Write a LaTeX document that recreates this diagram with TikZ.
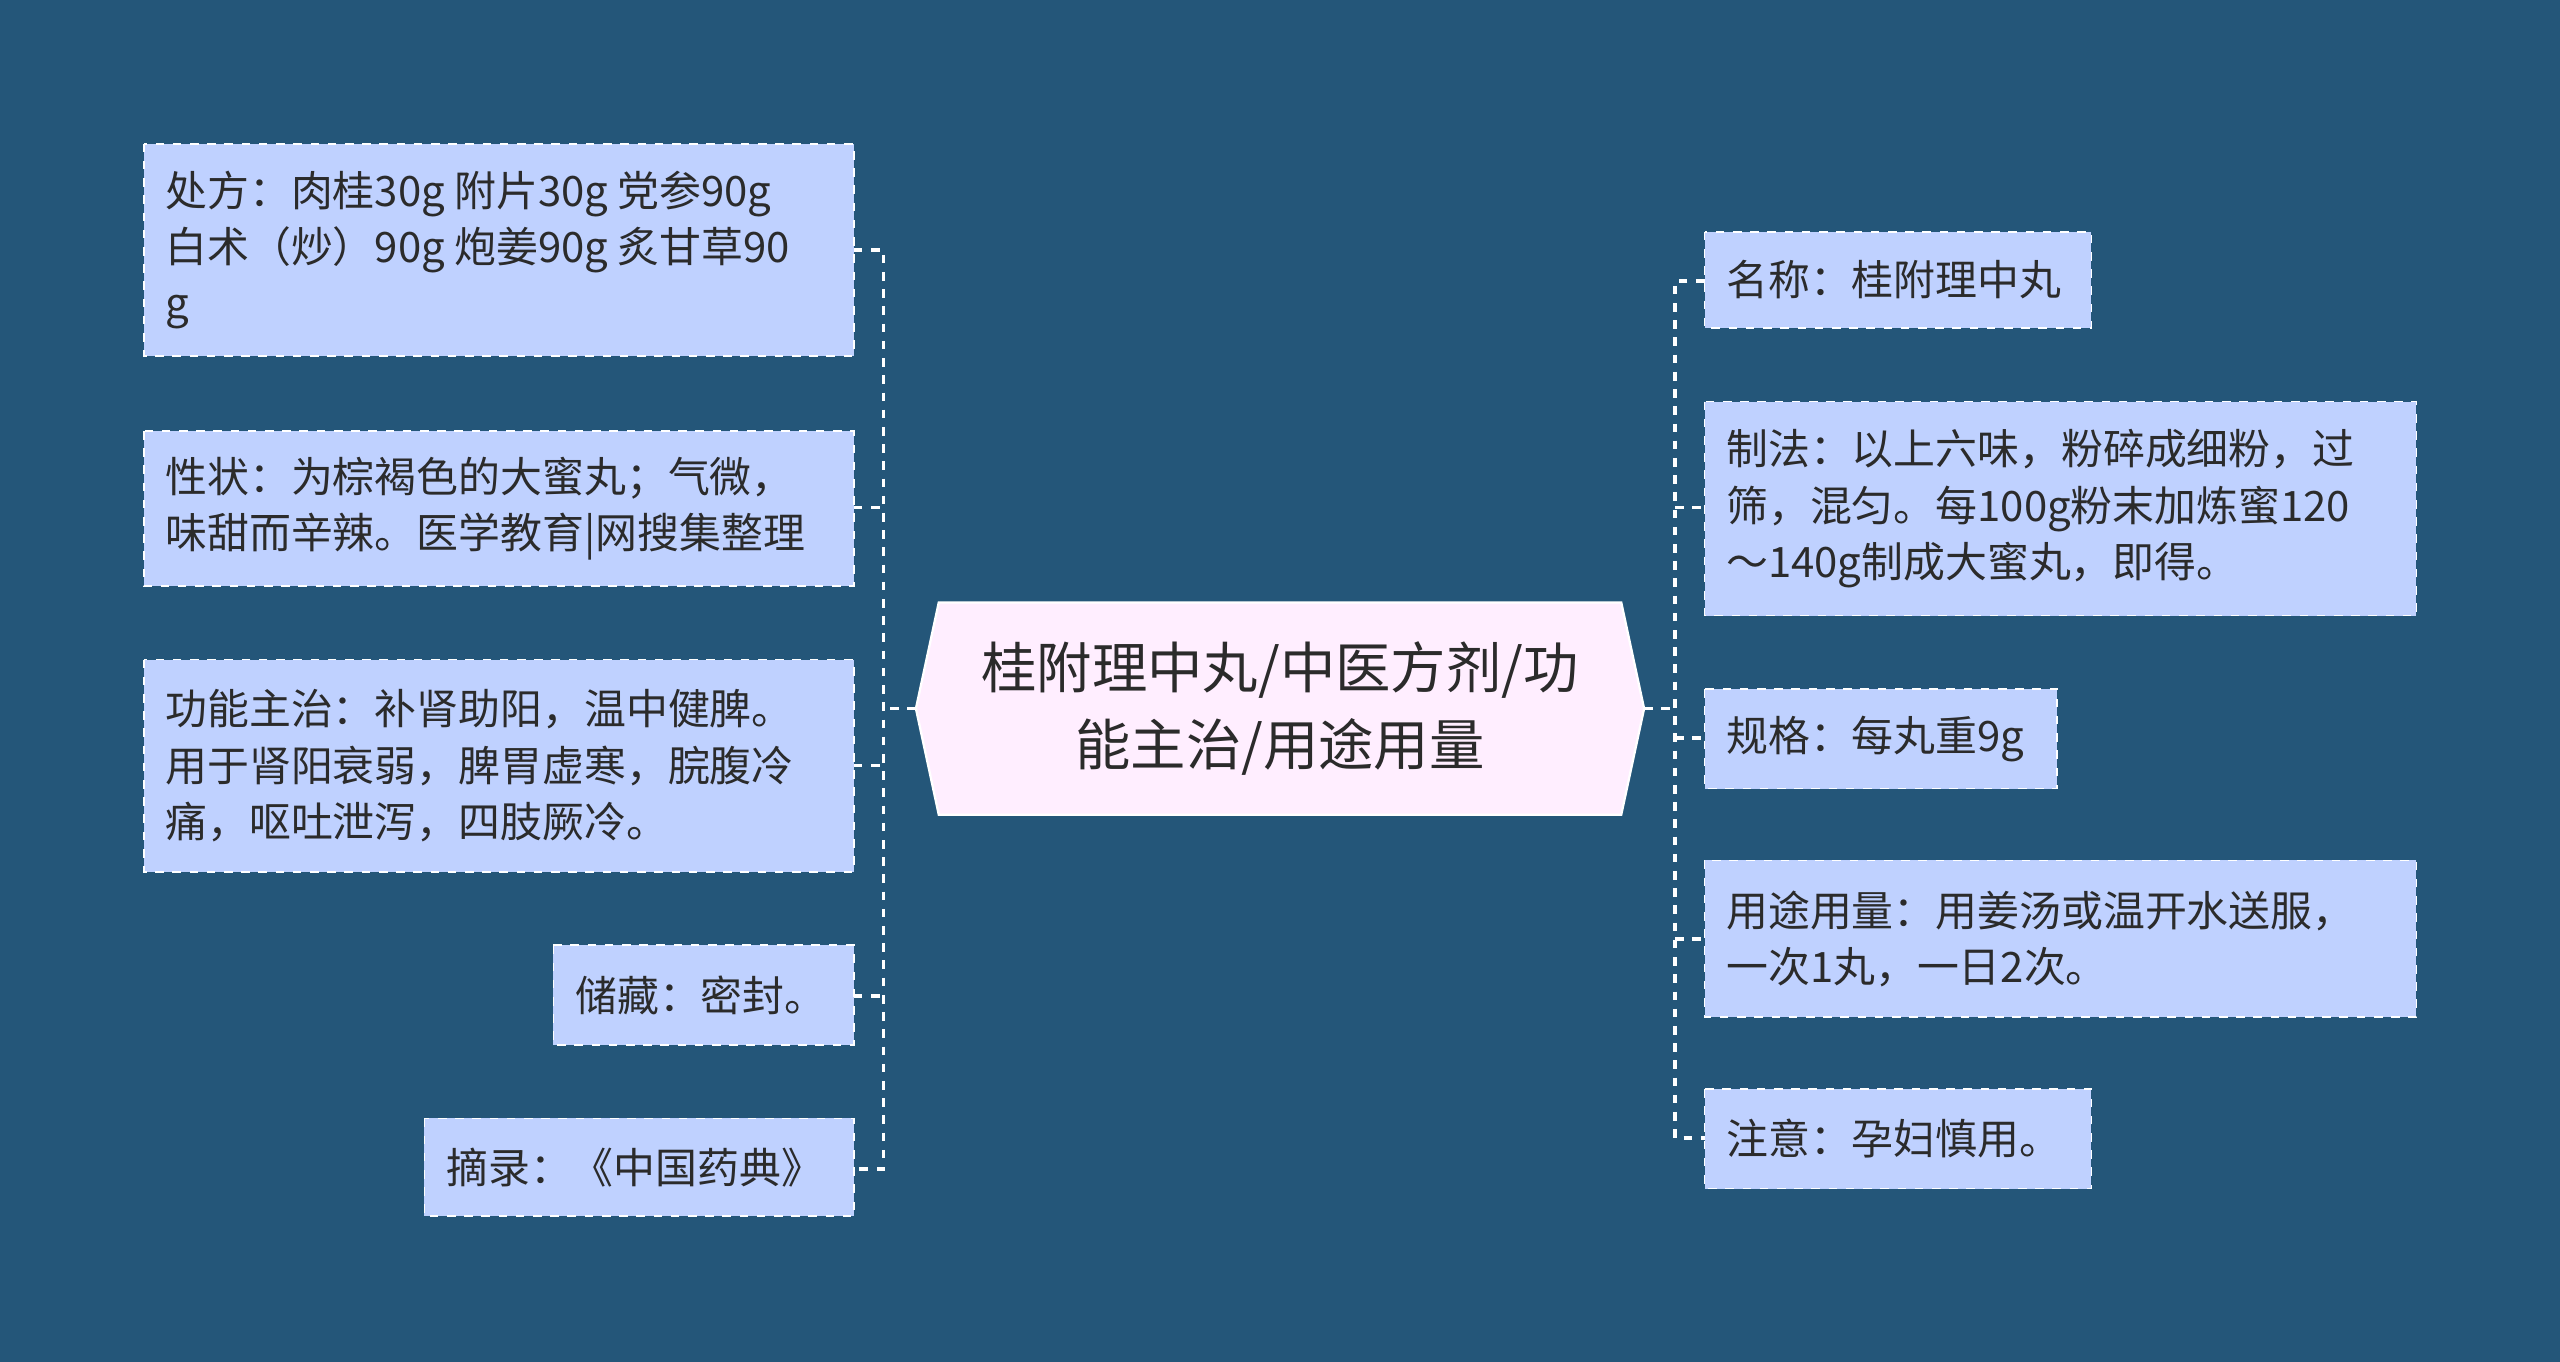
\documentclass[tikz,border=0pt]{standalone}
\usepackage{fontspec}
\setmainfont{Noto Sans CJK SC}
\begin{document}
\begin{tikzpicture}[x=0.02cm,y=-0.02cm,
  leaf/.style={draw=white,dashed,line width=0.6pt,fill=leafc},
  link/.style={draw=white,dashed,line width=1.2pt}]
\definecolor{bg}{HTML}{245679}
\definecolor{leafc}{HTML}{BFD1FF}
\definecolor{txt}{HTML}{2B2B2B}
\definecolor{cen}{HTML}{FFEEFF}
\fill[bg] (0,0) rectangle (1568,834);
\useasboundingbox (0,0) rectangle (1568,834);
% center
\draw[white,line width=0.8pt,fill=cen] (561,434)--(575,369)--(993,369)--(1007,434)--(993,499)--(575,499)--cycle;
\node[font=\fontsize{19.3pt}{27pt}\selectfont,text=txt,align=center] (c) at (784,434) {桂附理中丸/中医方剂/功\\能主治/用途用量};
\newcommand{\leafbox}[6]{\path[leaf] (#1,#2) rectangle (#3,#4); \node[anchor=west,font=\fontsize{14.6pt}{19.6pt}\selectfont,text=txt,align=left,inner sep=0pt] (#5) at (#1+13,{(#2+#4)/2}) {#6};}
\leafbox{88}{88}{523}{218}{l1}{处方：肉桂30g 附片30g 党参90g\\白术（炒）90g 炮姜90g 炙甘草90\\g}
\leafbox{88}{264}{523}{359}{l2}{性状：为棕褐色的大蜜丸；气微，\\味甜而辛辣。医学教育|网搜集整理}
\leafbox{88}{404}{523}{534}{l3}{功能主治：补肾助阳，温中健脾。\\用于肾阳衰弱，脾胃虚寒，脘腹冷\\痛，呕吐泄泻，四肢厥冷。}
\leafbox{339}{579}{523}{640}{l4}{储藏：密封。}
\leafbox{260}{685}{523}{745}{l5}{摘录：《中国药典》}
\leafbox{1044}{142}{1281}{201}{r1}{名称：桂附理中丸}
\leafbox{1044}{246}{1480}{377}{r2}{制法：以上六味，粉碎成细粉，过\\筛，混匀。每100g粉末加炼蜜120\\～140g制成大蜜丸，即得。}
\leafbox{1044}{422}{1260}{483}{r3}{规格：每丸重9g}
\leafbox{1044}{527}{1480}{623}{r4}{用途用量：用姜汤或温开水送服，\\一次1丸，一日2次。}
\leafbox{1044}{667}{1281}{728}{r5}{注意：孕妇慎用。}
% connectors
\coordinate (lj) at (541,434);
\coordinate (rj) at (1026,434);
\draw[link] (1007,434) -- (rj);
\draw[link] (561,434) -- (lj);
\draw[link] (523,153) -| (541,716) -- (523,716);
\foreach \y in {311,469,610} \draw[link] (523,\y) -- (541,\y);
\draw[link] (1044,172) -| (1026,697) -- (1044,697);
\foreach \y in {311,452,575} \draw[link] (1026,\y) -- (1044,\y);
\end{tikzpicture}
\end{document}
